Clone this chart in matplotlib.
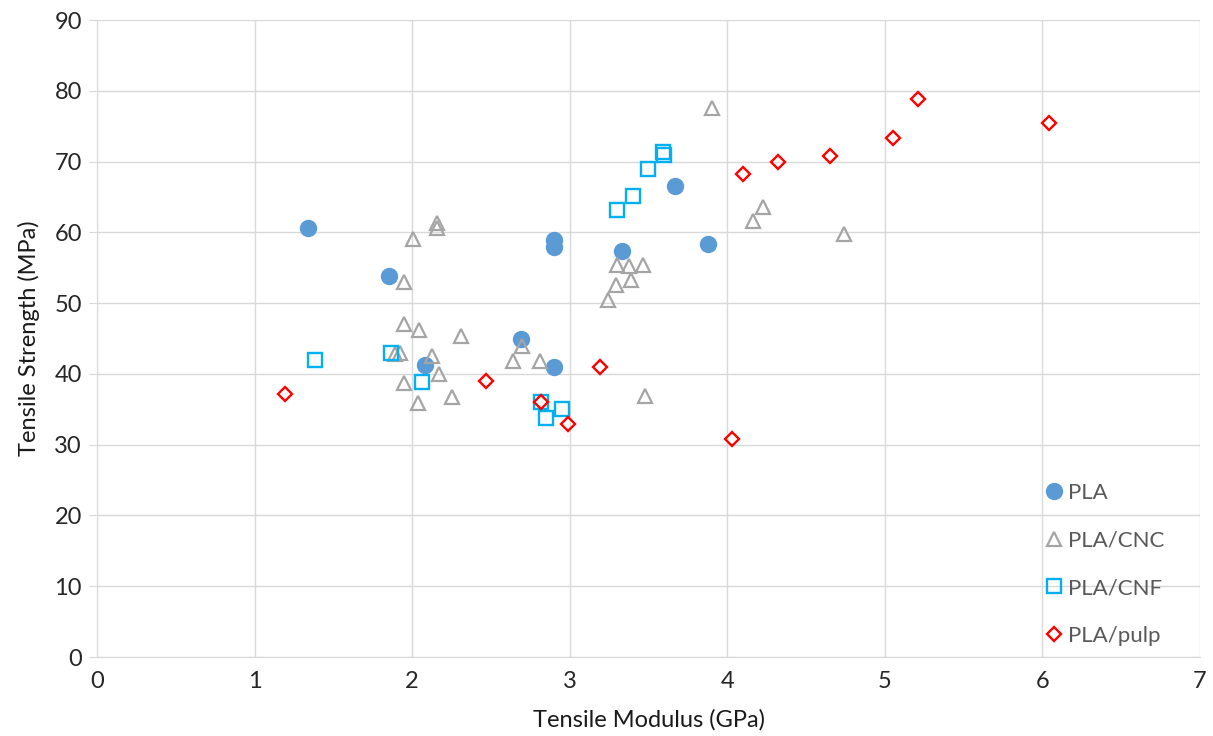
import matplotlib
matplotlib.use("Agg")
import matplotlib.pyplot as plt

plt.rcParams['font.family'] = ['Lato', 'DejaVu Sans']

pla_x = [1.34, 1.85, 2.08, 2.69, 2.90, 2.90, 2.90, 3.33, 3.67, 3.88]
pla_y = [60.6, 53.8, 41.3, 45.0, 58.9, 58.0, 41.0, 57.4, 66.5, 58.4]

cnc_x = [2.155, 2.155, 2.006, 1.95, 1.95, 2.045, 2.31, 1.89, 1.92, 2.123, 2.172, 1.95,
         2.034, 2.255, 2.64, 2.70, 2.813, 3.30, 3.374, 3.465, 3.294, 3.389, 3.243,
         3.48, 3.905, 4.224, 4.165, 4.74]
cnc_y = [61.3, 60.6, 59.0, 53.0, 47.0, 46.2, 45.4, 42.8, 42.9, 42.5, 40.0, 38.7,
         35.9, 36.8, 41.8, 44.0, 41.8, 55.4, 55.2, 55.4, 52.5, 53.2, 50.5,
         36.9, 77.6, 63.6, 61.6, 59.8]

cnf_x = [1.386, 1.864, 2.06, 2.82, 2.85, 2.95, 3.30, 3.40, 3.497, 3.59, 3.60]
cnf_y = [42.0, 43.0, 38.9, 36.0, 33.8, 35.1, 63.1, 65.2, 68.9, 71.3, 70.9]

pulp_x = [1.19, 2.467, 2.82, 2.987, 3.19, 4.03, 4.10, 4.32, 4.654, 5.05, 5.21, 6.04]
pulp_y = [37.1, 39.0, 36.0, 32.9, 41.0, 30.8, 68.2, 70.0, 70.8, 73.4, 78.9, 75.4]

x_ticks = [0, 1, 2, 3, 4, 5, 6, 7]
y_ticks = [0, 10, 20, 30, 40, 50, 60, 70, 80, 90]

fig = plt.figure(figsize=(12.13, 7.36), dpi=100)
ax = fig.add_axes([0.080, 0.1073, 0.9093, 0.8655])

ax.plot(pla_x, pla_y, linestyle='none', marker='o', ms=11.5, color='#5B9BD5',
        markeredgecolor='#5B9BD5', label='PLA', zorder=3)
ax.plot(cnc_x, cnc_y, linestyle='none', marker='^', ms=10, markerfacecolor='none',
        markeredgecolor='#A5A5A5', markeredgewidth=1.6, label='PLA/CNC', zorder=3)
ax.plot(cnf_x, cnf_y, linestyle='none', marker='s', ms=9.5, markerfacecolor='none',
        markeredgecolor='#00B0F0', markeredgewidth=1.7, label='PLA/CNF', zorder=3)
ax.plot(pulp_x, pulp_y, linestyle='none', marker='D', ms=7, markerfacecolor='none',
        markeredgecolor='#FF0000', markeredgewidth=1.7, label='PLA/pulp', zorder=3)

ax.set_xlim(0, 7)
ax.set_ylim(0, 90)
ax.set_xticks(x_ticks)
ax.set_yticks(y_ticks)
ax.grid(True, color='#D9D9D9', linewidth=1.0)
ax.set_axisbelow(True)
for s in ['top', 'right']:
    ax.spines[s].set_visible(False)
ax.spines['left'].set_color('#D9D9D9')
ax.spines['bottom'].set_color('#D9D9D9')
ax.tick_params(axis='y', length=6, color='#D9D9D9', labelsize=17, labelcolor='#262626', pad=5)
ax.tick_params(axis='x', length=0, labelsize=17, labelcolor='#262626', pad=10)
ax.set_xlabel('Tensile Modulus (GPa)', fontsize=17, color='#1a1a1a', labelpad=12)
ax.set_ylabel('Tensile Strength (MPa)', fontsize=17, color='#1a1a1a', labelpad=10)

leg = ax.legend(loc='lower left', bbox_to_anchor=(0.839, -0.014), frameon=False,
                fontsize=16, labelspacing=1.25, handletextpad=0.15, handlelength=1.0,
                labelcolor='#595959')

fig.savefig('out.png', dpi=100)
